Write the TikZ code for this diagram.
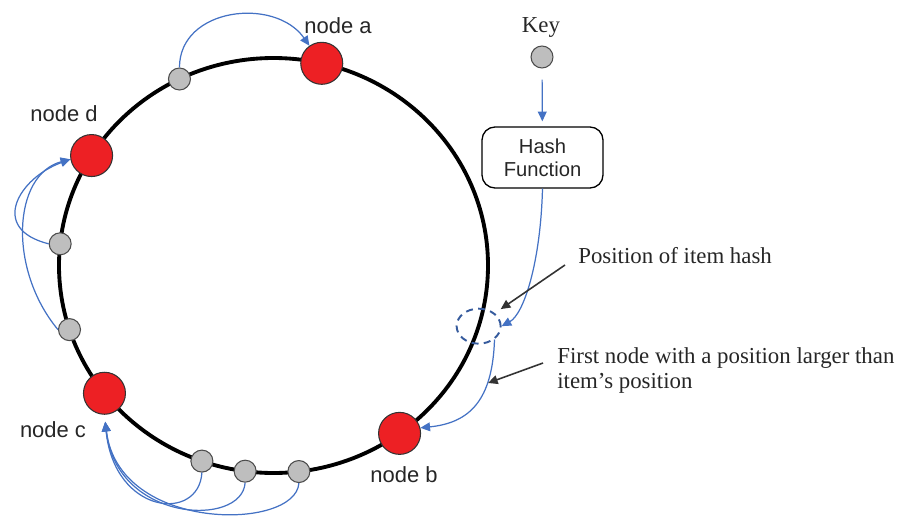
\documentclass[tikz,border=0pt]{standalone}
\usepackage{fontspec}
\setmainfont{Liberation Serif}
\setsansfont{Liberation Sans}
\usetikzlibrary{arrows.meta,positioning,shapes.geometric}
\definecolor{nodered}{RGB}{237,32,36}
\definecolor{itemgray}{RGB}{190,190,190}
\definecolor{hopblue}{RGB}{68,114,196}
\definecolor{notegray}{RGB}{51,51,51}

\begin{document}
\begin{tikzpicture}[x=0.02cm,y=0.02cm,>={Triangle[length=5.5pt,width=5pt]},
server/.style={circle,fill=nodered,draw=black!80,line width=0.6pt,minimum size=0.84cm,inner sep=0pt},
item/.style={circle,fill=itemgray,draw=black!70,line width=0.6pt,minimum size=0.44cm,inner sep=0pt},
hop/.style={->,hopblue,line width=0.7pt},
note/.style={->,notegray,line width=0.9pt},
tag/.style={font=\sffamily\fontsize{12.5}{15}\selectfont,text=black!85},
remark/.style={font=\fontsize{13}{14.5}\selectfont,text=black!85,inner sep=0pt,anchor=west,align=left}]
\useasboundingbox (-273.5,265.5) rectangle (637.5,-255.5);
\draw[line width=2.2pt] (0,0) ellipse [x radius=214.5,y radius=207.5];
\node[server] (A) at (77:214.5 and 207.5) {};
\node[server] (B) at (306:214.5 and 207.5) {};
\node[server] (C) at (218:214.5 and 207.5) {};
\node[server] (D) at (148:214.5 and 207.5) {};
\node[item] (a1) at (116:214.5 and 207.5) {};
\node[item] (d1) at (174:214.5 and 207.5) {};
\node[item] (d2) at (198:214.5 and 207.5) {};
\node[item] (c1) at (250.5:214.5 and 207.5) {};
\node[item] (c2) at (262.4:214.5 and 207.5) {};
\node[item] (c3) at (276.8:214.5 and 207.5) {};
\node[tag] (la) at (64.5,239.5) {node a};
\node[tag] (lb) at (130.5,-209.5) {node b};
\node[tag] (lc) at (-220.5,-164.5) {node c};
\node[tag] (ld) at (-209.5,151.5) {node d};
\node[draw=hopblue!80!black,dashed,dash pattern=on 4pt off 3pt,ellipse,line width=1.1pt,
  minimum width=0.88cm,minimum height=0.7cm,inner sep=0pt] (P) at (343:214.5 and 207.5) {};
\node[item] (K) at (268.5,208.5) {};
\node[font=\fontsize{13}{15}\selectfont,text=black!85] (kt) at (267.5,238) {Key};
\node[draw,rounded corners=0.26cm,line width=0.75pt,minimum width=2.42cm,minimum height=1.22cm,
  align=center,font=\sffamily\fontsize{11.5}{13}\selectfont,text=black!85] (H) at (269,108) {Hash\\Function};
\draw[hop,shorten <=0.22cm,shorten >=0.1cm] (K) -- (H);
\draw[hop] (H.south) .. controls +(-2,-75) and +(22,12) .. (P.east);
\draw[hop] (P.-40) .. controls +(-2,-60) and +(50,5) .. (B.15);
\draw[hop] (a1.north) .. controls +(0,60) and +(125:60) .. (A.125);
\draw[hop] (d1.west) .. controls +(-60,15) and +(200:55) .. (D.190);
\draw[hop] (d2.west) .. controls +(-50,60) and +(195:60) .. (D.190);
\draw[hop,shorten >=4pt] (c1.south) .. controls +(-3,-50) and +(10,-100) .. (C.south);
\draw[hop,shorten >=4pt] (c2.south) .. controls +(-3,-45) and +(12,-108) .. (C.south);
\draw[hop,shorten >=4pt] (c3.south) .. controls +(-3,-48) and +(14,-118) .. (C.south);
\node[remark] (pos) at (304.5,9.5) {Position of item hash};
\node[remark] (first) at (283.5,-105) {First node with a position larger than\\item's position};
\coordinate (q) at (214.5,-117.5);
\draw[note,shorten >=4pt] ([shift={(-13,-9)}]pos.west) -- (P.north east);
\draw[note] ([shift={(-14,7.5)}]first.west) -- (q);
\end{tikzpicture}
\end{document}
